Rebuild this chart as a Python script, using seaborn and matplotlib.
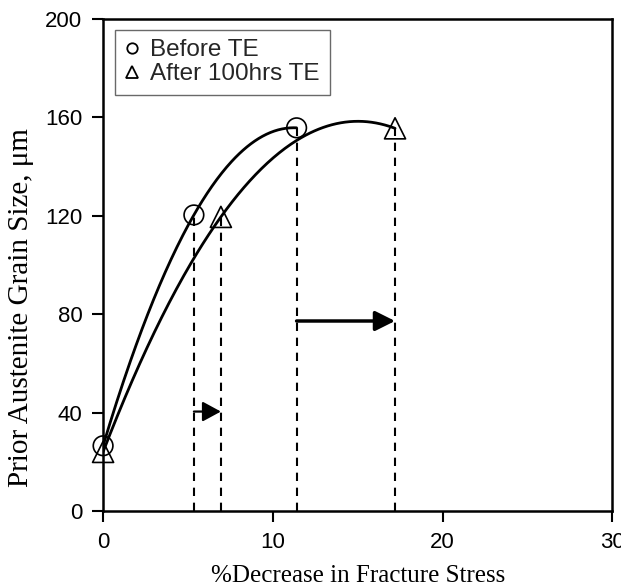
import numpy as np
import pandas as pd
import matplotlib
matplotlib.use("Agg")
import matplotlib.pyplot as plt
import seaborn as sns

# Measured points: % decrease in fracture stress vs prior austenite grain size
stress_before = [0.0, 5.35, 11.4]
grain_before = [26.5, 120.3, 155.7]
stress_after = [0.0, 6.94, 17.2]
grain_after = [24.0, 119.5, 155.5]

label_before = "Before TE"
label_after = "After 100hrs TE"

x_ticks = [0, 10, 20, 30]
y_ticks = [0, 40, 80, 120, 160, 200]

sns.set_theme(style="white")
plt.rcParams["font.family"] = ["Liberation Sans", "DejaVu Sans"]

fig = plt.figure(figsize=(6.21, 5.88), dpi=100)
ax = fig.add_axes([0.166, 0.131, 0.820, 0.837])

df_before = pd.DataFrame({"stress": stress_before, "grain": grain_before})
df_after = pd.DataFrame({"stress": stress_after, "grain": grain_after})


def trend(df):
    # second-order polynomial trendline through the series
    coef = np.polyfit(df["stress"], df["grain"], 2)
    xs = np.linspace(df["stress"].min(), df["stress"].max(), 200)
    return pd.DataFrame({"stress": xs, "grain": np.polyval(coef, xs)})


sns.lineplot(data=trend(df_before), x="stress", y="grain", ax=ax,
             color="black", lw=2.0, sort=False, zorder=3)
sns.lineplot(data=trend(df_after), x="stress", y="grain", ax=ax,
             color="black", lw=2.0, sort=False, zorder=3)

# dashed drop lines from the non-zero points
for df in (df_before, df_after):
    for xv, yv in zip(df["stress"][1:], df["grain"][1:]):
        ax.plot([xv, xv], [0, yv], color="black", lw=1.5,
                linestyle=(0, (4, 3.2)), zorder=2)

sns.scatterplot(data=df_before, x="stress", y="grain", ax=ax, marker="o",
                s=200, facecolor="none", edgecolor="black", linewidth=1.2,
                zorder=4, clip_on=False)
sns.scatterplot(data=df_after, x="stress", y="grain", ax=ax, marker="^",
                s=230, facecolor="none", edgecolor="black", linewidth=1.2,
                zorder=4, clip_on=False)

# shift arrows between the two conditions
small_y, big_y = 40.4, 77.2
ax.annotate("", xy=(stress_after[1], small_y), xytext=(stress_before[1], small_y),
            arrowprops=dict(arrowstyle="-|>,head_length=0.7,head_width=0.38",
                            lw=1.6, color="black", shrinkA=0, shrinkB=0,
                            mutation_scale=16), zorder=5)
ax.annotate("", xy=(stress_after[2], big_y), xytext=(stress_before[2], big_y),
            arrowprops=dict(arrowstyle="-|>,head_length=1.0,head_width=0.5",
                            lw=2.5, color="black", shrinkA=0, shrinkB=0,
                            mutation_scale=12), zorder=5)

ax.set_xlim(0, 30)
ax.set_ylim(0, 200)
ax.set_xticks(x_ticks)
ax.set_yticks(y_ticks)
ax.tick_params(axis="both", which="major", direction="out", length=8, width=1.5,
               labelsize=16, color="black", labelcolor="black", pad=7,
               bottom=True, left=True)
for side in ("left", "bottom", "top", "right"):
    ax.spines[side].set_color("black")
    ax.spines[side].set_linewidth(1.8)

ax.set_xlabel("%Decrease in Fracture Stress", family=["Liberation Serif"],
              fontsize=18, color="black", labelpad=9)
ax.set_ylabel("Prior Austenite Grain Size, \u03bcm", family=["Liberation Serif"],
              fontsize=21, color="black")
ax.yaxis.set_label_coords(-0.135, 0.413)

handles = [
    plt.Line2D([], [], marker="o", linestyle="none", markersize=7.5,
               markerfacecolor="none", markeredgecolor="black", markeredgewidth=1.3),
    plt.Line2D([], [], marker="^", linestyle="none", markersize=8.5,
               markerfacecolor="none", markeredgecolor="black", markeredgewidth=1.3),
]
leg = ax.legend(handles, [label_before, label_after], loc="upper left",
                bbox_to_anchor=(0.0235, 0.978), borderaxespad=0, fontsize=17.5,
                frameon=True, fancybox=False, handlelength=0.6,
                handletextpad=0.45, labelspacing=0.08, borderpad=0.4)
leg.get_frame().set_edgecolor("#444444")
leg.get_frame().set_linewidth(1.0)

fig.savefig("out.png", dpi=100)
